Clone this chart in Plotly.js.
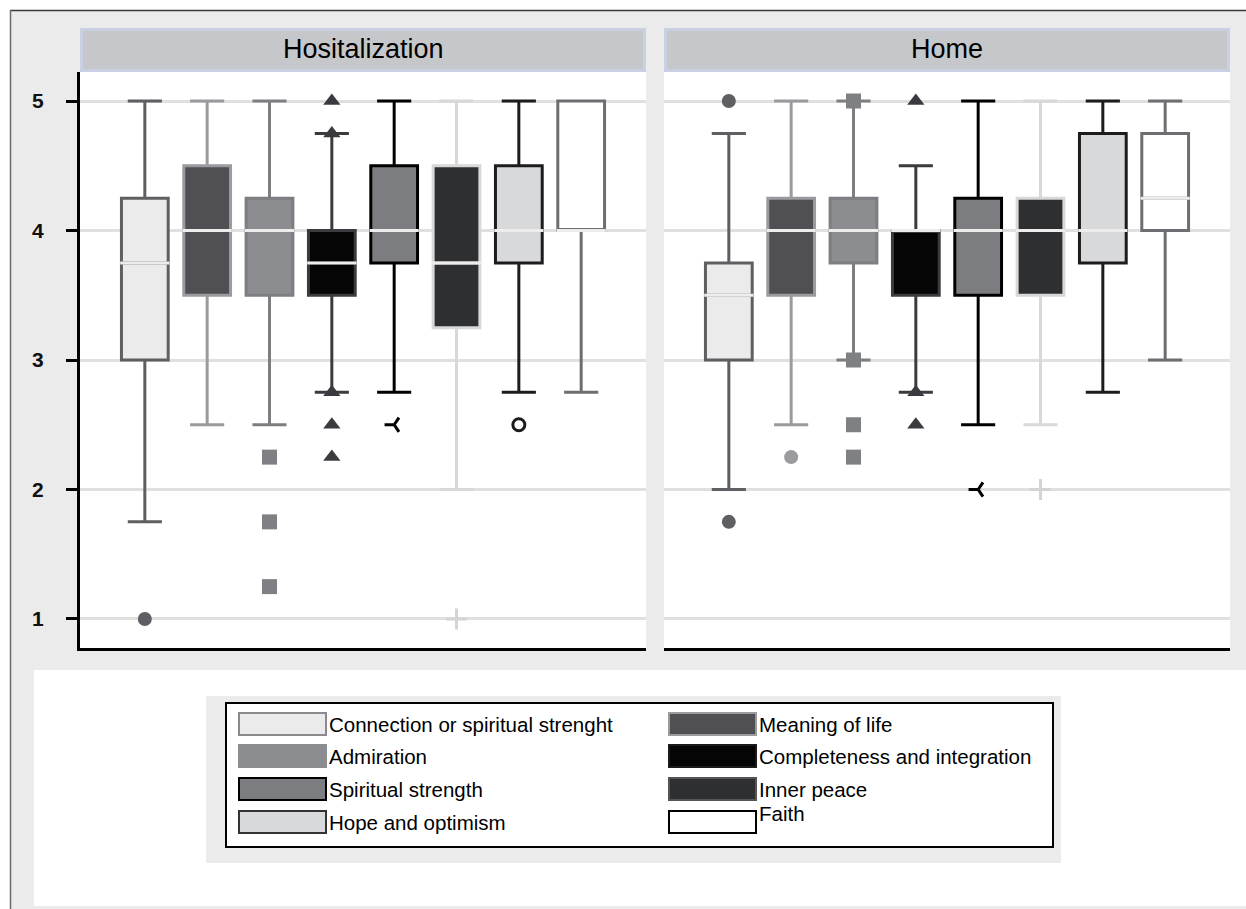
<!DOCTYPE html>
<html>
<head>
<meta charset="utf-8">
<script src="https://cdn.plot.ly/plotly-3.0.1.min.js"></script>
<style>html,body{margin:0;padding:0;background:#fff;}#chart{width:1246px;height:909px;}</style>
</head>
<body>
<div id="chart"></div>
<script>
// ---------------- DATA ----------------
const seriesNames = ["Connection or spiritual strenght","Meaning of life","Admiration","Completeness and integration","Spiritual strength","Inner peace","Hope and optimism","Faith"];
const panelTitles = ["Hositalization","Home"];
const yTicks = [1,2,3,4,5];

// Hositalization
const hospQ1     = [3,    3.5, 3.5,  3.5,  3.75, 3.25, 3.75, 4];
const hospMedian = [3.75, 4,   4,    3.75, 4,    3.75, 4,    4];
const hospQ3     = [4.25, 4.5, 4.25, 4,    4.5,  4.5,  4.5,  5];
const hospLower  = [1.75, 2.5, 2.5,  2.75, 2.75, 2,    2.75, 2.75];
const hospUpper  = [5,    5,   5,    4.75, 5,    5,    5,    5];
const hospOutliers = [[1],[],[2.25,1.75,1.25],[5,4.75,2.75,2.5,2.25],[2.5],[1],[2.5],[]];

// Home
const homeQ1     = [3,    3.5,  3.75, 3.5,  3.5,  3.5,  3.75, 4];
const homeMedian = [3.5,  4,    4,    4,    4,    4,    4,    4.25];
const homeQ3     = [3.75, 4.25, 4.25, 4,    4.25, 4.25, 4.75, 4.75];
const homeLower  = [2,    2.5,  3,    2.75, 2.5,  2.5,  2.75, 3];
const homeUpper  = [4.75, 5,    5,    4.5,  5,    5,    5,    5];
const homeOutliers = [[5,1.75],[2.25],[5,3,2.5,2.25],[5,2.75,2.5],[2],[2],[],[]];

// ---------------- STYLE ----------------
const fillColors = ["#ebebeb","#505054","#8c8d91","#050505","#7c7d81","#2e2f31","#d8d9db","#ffffff"];
const lineColors = ["#5f5f63","#9b9b9f","#7d7e82","#3b3b3f","#000000","#d8d8da","#1c1c1e","#6e6e72"];
const legendBorders = ["#8a8a8e","#9b9b9f","#8c8d91","#1a1a1a","#000000","#555558","#333335","#000000"];
const markerSymbols = ["circle","circle","square","triangle-up","y-left-open","cross-thin-open","circle-open","circle"];
const markerColors = ["#5f5f63","#9b9b9f","#7f8084","#3b3b3f","#000000","#d4d4d6","#1c1c1e","#6e6e72"];
const markerSizes = [14,14,15,15,12,15,12,10];

const W = 1246, H = 909;
const px = x => x / W;
const py = y => 1 - y / H;
const FONT = "Liberation Sans, Arial, sans-serif";
const medianColor = "#ededed";

const traces = [];
function addPanel(q1, med, q3, lo, up, outs, xa) {
  seriesNames.forEach((name, i) => {
    traces.push({
      type: "box", xaxis: xa, yaxis: "y", x: [name],
      q1: [q1[i]], median: [med[i]], q3: [q3[i]],
      lowerfence: [lo[i]], upperfence: [up[i]],
      width: 0.75, whiskerwidth: 0.73,
      fillcolor: fillColors[i], line: {color: lineColors[i], width: 3},
      boxpoints: false, showlegend: false, hoverinfo: "skip"
    });
  });
  seriesNames.forEach((name, i) => {
    traces.push({
      type: "box", xaxis: xa, yaxis: "y", x: [name],
      q1: [med[i]], median: [med[i]], q3: [med[i]],
      lowerfence: [med[i]], upperfence: [med[i]],
      width: 0.79, whiskerwidth: 0,
      fillcolor: "rgba(0,0,0,0)", line: {color: medianColor, width: 3},
      boxpoints: false, showlegend: false, hoverinfo: "skip"
    });
  });
  seriesNames.forEach((name, i) => {
    if (!outs[i].length) return;
    const open = markerSymbols[i].indexOf("open") >= 0;
    traces.push({
      type: "scatter", mode: "markers", xaxis: xa, yaxis: "y",
      x: outs[i].map(() => name), y: outs[i],
      marker: {symbol: markerSymbols[i], size: markerSizes[i], color: markerColors[i],
               line: {color: markerColors[i], width: open ? 3 : 0}},
      showlegend: false, hoverinfo: "skip", cliponaxis: false
    });
  });
}
addPanel(hospQ1, hospMedian, hospQ3, hospLower, hospUpper, hospOutliers, "x");
addPanel(homeQ1, homeMedian, homeQ3, homeLower, homeUpper, homeOutliers, "x2");

// ---------------- DECORATION ----------------
const shapes = [];
const annotations = [];
function rect(x0, y0, x1, y1, fill, lineColor, lw) {
  shapes.push({type: "rect", xref: "paper", yref: "paper", layer: "below",
    x0: px(x0), x1: px(x1), y0: py(y1), y1: py(y0),
    fillcolor: fill, line: {color: lineColor || fill, width: lw === undefined ? 0 : lw}});
}
rect(0, 0, 10, H, "#ffffff");
rect(0, 0, W, 10, "#ffffff");
shapes.push({type:"line", xref:"paper", yref:"paper", layer:"below", x0:px(10), x1:px(W), y0:py(10.5), y1:py(10.5), line:{color:"#3a3a3a", width:1.5}});
shapes.push({type:"line", xref:"paper", yref:"paper", layer:"below", x0:px(10.5), x1:px(10.5), y0:py(10), y1:py(H), line:{color:"#6a6a6a", width:1.5}});
rect(34, 670, W, 906, "#ffffff");
const headerX = [[80, 646], [664, 1230]];
headerX.forEach((hx, k) => {
  rect(hx[0] + 1.5, 29.5, hx[1] - 1.5, 70.5, "#c6c7cb", "#c9d0e2", 3);
  annotations.push({xref: "paper", yref: "paper", x: px((hx[0] + hx[1]) / 2), y: py(49),
    text: panelTitles[k], showarrow: false, xanchor: "center", yanchor: "middle",
    font: {family: FONT, size: 27, color: "#000"}});
});
rect(206, 696, 1061, 863, "#ebebeb");
rect(226, 703, 1053, 847, "#ffffff", "#000000", 2);
const legCols = [238, 668];
const legRows = [724, 756, 789, 822];
seriesNames.forEach((name, i) => {
  const col = i % 2, row = Math.floor(i / 2);
  const x0 = legCols[col], yc = legRows[row];
  rect(x0 + 1, yc - 11, x0 + 88, yc + 11, fillColors[i], legendBorders[i], 2);
  const ty = (name === "Faith") ? yc - 9 : yc;
  annotations.push({xref: "paper", yref: "paper", x: px(x0 + 89), y: py(ty),
    text: name, showarrow: false, xanchor: "left", yanchor: "middle",
    font: {family: FONT, size: 20.5, color: "#000"}});
});

const xCommon = {
  type: "category", categoryorder: "array", categoryarray: seriesNames,
  range: [-1.04, 8.04], showticklabels: false, ticks: "", showgrid: false, zeroline: false,
  showline: true, linecolor: "#000", linewidth: 3, anchor: "y", fixedrange: true
};
const layout = {
  width: W, height: H,
  margin: {l: 0, r: 0, t: 0, b: 0},
  paper_bgcolor: "#ebebeb", plot_bgcolor: "#ffffff",
  showlegend: false, boxmode: "overlay",
  xaxis: Object.assign({}, xCommon, {domain: [px(80), px(646)]}),
  xaxis2: Object.assign({}, xCommon, {domain: [px(664), px(1230)]}),
  yaxis: {
    domain: [py(648), py(72)], range: [0.776, 5.224],
    tickvals: yTicks, ticktext: yTicks.map(String),
    ticks: "outside", ticklen: 11, tickwidth: 3, tickcolor: "#000",
    ticklabelstandoff: 18,
    tickfont: {family: FONT, size: 21, color: "#111", weight: "bold"},
    showgrid: true, gridcolor: "#e0e0e0", gridwidth: 3,
    zeroline: false, showline: true, linecolor: "#000", linewidth: 3,
    anchor: "x", fixedrange: true
  },
  shapes: shapes, annotations: annotations
};
Plotly.newPlot("chart", traces, layout, {displayModeBar: false, staticPlot: true});
</script>
</body>
</html>
